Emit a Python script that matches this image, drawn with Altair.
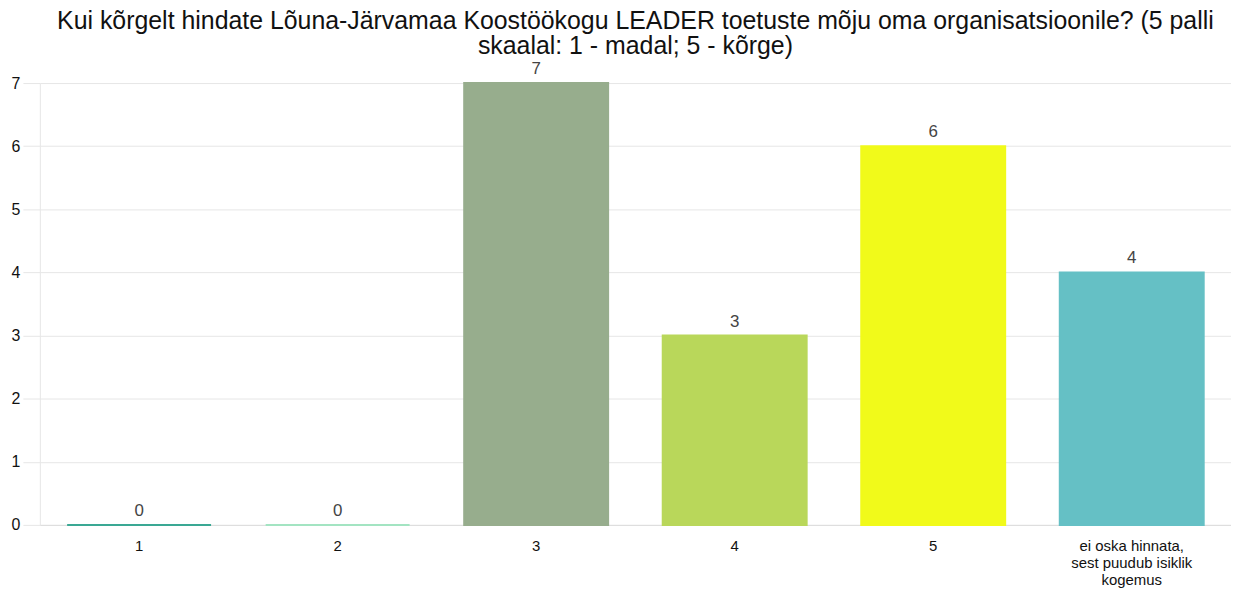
import altair as alt
import pandas as pd

categories = ["1", "2", "3", "4", "5", "ei oska hinnata,\nsest puudub isiklik\nkogemus"]
values = [0, 0, 7, 3, 6, 4]
colors = ["#3aa894", "#a3e4c2", "#97ad8d", "#b9d75a", "#f1fa1a", "#65c0c5"]

df = pd.DataFrame({"cat": categories, "value": values, "color": colors})

x = alt.X("cat:N", sort=categories, title=None,
          scale=alt.Scale(paddingInner=0.275, paddingOuter=0.1375, round=False),
          axis=alt.Axis(labelAngle=0, labelFontSize=15, labelColor="#111", labelFont="Liberation Sans",
                        labelExpr="split(datum.label, '\\n')", labelLineHeight=17,
                        ticks=False, domain=True, domainColor="#dddddd", labelPadding=14,
                        labelLimit=300))
y = alt.Y("value:Q", title=None,
          scale=alt.Scale(domain=[0, 7], nice=False),
          axis=alt.Axis(values=[0, 1, 2, 3, 4, 5, 6, 7], format="d", labelFontSize=16, labelColor="#111",
                        labelFont="Liberation Sans", tickSize=17, tickColor="#e6e6e6",
                        gridColor="#e6e6e6", domainColor="#e6e6e6", labelPadding=3))

bars = alt.Chart(df).mark_bar(strokeWidth=2).encode(
    x=x, y=y,
    color=alt.Color("color:N", scale=None),
    stroke=alt.Stroke("color:N", scale=None),
)
labels = alt.Chart(df).mark_text(dy=-14, fontSize=17, color="#444", font="Liberation Sans").encode(
    x=alt.X("cat:N", sort=categories), y="value:Q", text="value:Q"
)

chart = (bars + labels).properties(
    width=1197, height=444,
    title=alt.Title(["Kui kõrgelt hindate Lõuna-Järvamaa Koostöökogu LEADER toetuste mõju oma organisatsioonile? (5 palli",
                     "skaalal: 1 - madal; 5 - kõrge)"],
                    fontSize=25, font="Liberation Sans", fontWeight="normal", color="#111",
                    anchor="middle", offset=1, lineHeight=25),
    padding={"left": 3, "top": 0, "right": 0, "bottom": 0},
).configure_view(stroke=None)

chart.save("out.html", embed_options={"renderer": "svg", "actions": False})
